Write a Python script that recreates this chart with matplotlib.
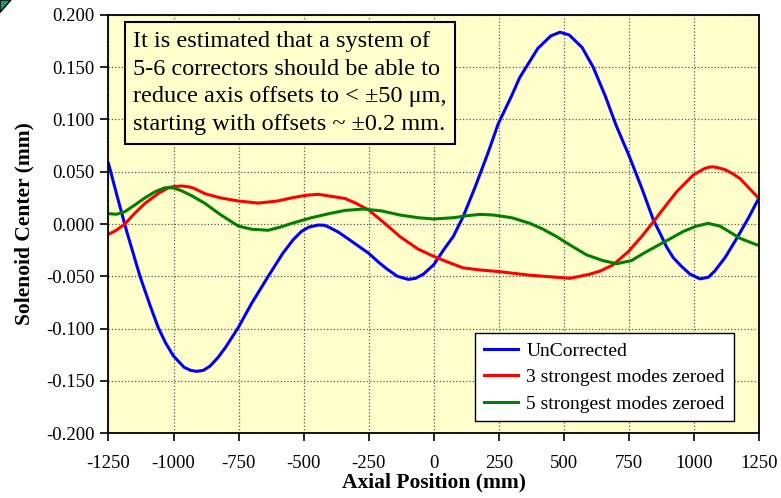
import matplotlib
matplotlib.use("Agg")
import matplotlib.pyplot as plt
from matplotlib.patches import Polygon

plt.rcParams['font.family'] = ['Liberation Serif', 'DejaVu Serif']
plt.rcParams['axes.unicode_minus'] = False

# axial position (mm) and offset (mm)
x_unc = [-1250, -1215, -1180, -1129, -1090, -1059, -1030, -1001, -960, -935, -911,
         -885, -860, -830, -800, -751, -700, -636, -580, -540, -508, -480, -444,
         -420, -399, -365, -330, -290, -250, -210, -180, -140, -98, -70, -40, 0,
         40, 75, 113, 160, 210, 248, 300, 330, 370, 400, 450, 485, 520, 570, 613,
         660, 700, 728, 748, 800, 844, 876, 895, 920, 950, 985, 1023, 1055, 1080,
         1120, 1164, 1210, 1250]
y_unc = [0.058, 0.025, -0.007, -0.050, -0.078, -0.099, -0.114, -0.126, -0.137,
         -0.140, -0.141, -0.140, -0.136, -0.128, -0.118, -0.099, -0.076, -0.050,
         -0.028, -0.015, -0.007, -0.003, -0.001, -0.0012, -0.0035, -0.008, -0.014,
         -0.021, -0.028, -0.037, -0.043, -0.050, -0.053, -0.052, -0.048, -0.039,
         -0.024, -0.012, 0.007, 0.036, 0.069, 0.096, 0.123, 0.140, 0.156, 0.168,
         0.180, 0.1835, 0.181, 0.169, 0.150, 0.122, 0.095, 0.0785, 0.067, 0.034,
         0.004, -0.012, -0.022, -0.032, -0.040, -0.048, -0.0525, -0.051, -0.045,
         -0.032, -0.014, 0.006, 0.025]

x_3 = [-1250, -1220, -1187, -1150, -1110, -1060, -1020, -1000, -969, -940, -920,
       -879, -820, -751, -674, -600, -546, -490, -444, -399, -341, -300, -250,
       -190, -130, -60, 0, 60, 113, 180, 248, 370, 485, 523, 562, 600, 640, 690,
       748, 799, 844, 890, 934, 970, 998, 1040, 1060, 1074, 1090, 1120, 1150,
       1177, 1250]
y_3 = [-0.0099, -0.006, 0.0, 0.010, 0.0197, 0.029, 0.0347, 0.0358, 0.0364, 0.0355,
       0.034, 0.029, 0.025, 0.022, 0.020, 0.022, 0.025, 0.0275, 0.0284, 0.0267,
       0.0244, 0.020, 0.0134, 0.001, -0.012, -0.024, -0.031, -0.037, -0.042,
       -0.044, -0.0455, -0.049, -0.0512, -0.052, -0.050, -0.048, -0.045, -0.039,
       -0.0264, -0.012, 0.002, 0.017, 0.031, 0.040, 0.047, 0.053, 0.0545, 0.0547,
       0.054, 0.052, 0.048, 0.0435, 0.0244]

x_5 = [-1250, -1220, -1187, -1150, -1110, -1070, -1033, -1000, -969, -930, -879,
       -820, -751, -700, -636, -590, -546, -470, -399, -341, -271, -200, -130, -60,
       0, 75, 130, 178, 229, 300, 370, 420, 472, 523, 588, 650, 703, 760, 818, 895,
       960, 1010, 1055, 1100, 1140, 1177, 1250]
y_5 = [0.0099, 0.0093, 0.0118, 0.018, 0.025, 0.031, 0.0347, 0.0345, 0.0318, 0.027,
       0.0197, 0.009, -0.002, -0.005, -0.006, -0.003, 0.0006, 0.006, 0.0101, 0.013,
       0.0143, 0.0125, 0.0086, 0.006, 0.0048, 0.006, 0.008, 0.0092, 0.0086, 0.006,
       0.0006, -0.005, -0.012, -0.020, -0.0296, -0.035, -0.038, -0.035, -0.0264,
       -0.016, -0.007, -0.002, 0.0006, -0.002, -0.008, -0.0137, -0.0207]

labels = ['UnCorrected', '3 strongest modes zeroed', '5 strongest modes zeroed']
colors = ['#0000FF', '#FF0000', '#008000']

xticks = list(range(-1250, 1251, 250))
yticks = [-0.2, -0.15, -0.1, -0.05, 0.0, 0.05, 0.1, 0.15, 0.2]

note = ("It is estimated that a system of\n"
        "5-6 correctors should be able to\n"
        "reduce axis offsets to < \u00b150 \u03bcm,\n"
        "starting with offsets ~ \u00b10.2 mm.")

fig = plt.figure(figsize=(7.81, 4.98), dpi=100)
ax = fig.add_axes([0.1389, 0.1305, 0.8329, 0.8394])
ax.set_facecolor('#FFFFCC')

ax.plot(x_unc, y_unc, color=colors[0], lw=2.2, label=labels[0])
ax.plot(x_3, y_3, color=colors[1], lw=2.2, label=labels[1])
ax.plot(x_5, y_5, color=colors[2], lw=2.2, label=labels[2])

ax.set_xlim(-1250, 1250)
ax.set_ylim(-0.2, 0.2)
ax.set_xticks(xticks)
ax.set_xticklabels([str(t) for t in xticks])
ax.set_yticks(yticks)
ax.set_yticklabels(['%.3f' % t for t in yticks])
ax.tick_params(direction='out', length=6, width=1.2, labelsize=13.5, pad=4)
ax.tick_params(axis='x', pad=10)
ax.grid(True, color='#555555', linestyle=':', lw=0.9)
for s in ax.spines.values():
    s.set_linewidth(1.3)

ax.set_xlabel('Axial Position (mm)', fontsize=15.5, fontweight='bold', labelpad=0)
ax.set_ylabel('Solenoid Center (mm)', fontsize=15.5, fontweight='bold', labelpad=8)

ax.text(0.038, 0.962, note, transform=ax.transAxes, fontsize=17.5, va='top',
        ha='left', linespacing=1.42,
        bbox=dict(boxstyle='square,pad=0.35', fc='#FFFFCC', ec='black', lw=1.5))

leg = ax.legend(loc='lower right', bbox_to_anchor=(0.961, 0.028), fontsize=14,
                fancybox=False, framealpha=1, edgecolor='black', handlelength=1.75,
                handletextpad=0.45, borderpad=0.45, labelspacing=0.45,
                borderaxespad=0)
leg.get_frame().set_linewidth(1.0)

# slide decoration showing at the top-left corner
fig.patches.append(Polygon([[0.0, 0.975], [0.014, 1.0], [0.0, 1.0]], closed=True,
                           transform=fig.transFigure, fc='#1a9a6a', ec='black', lw=1))

fig.savefig('out.png', dpi=100)
